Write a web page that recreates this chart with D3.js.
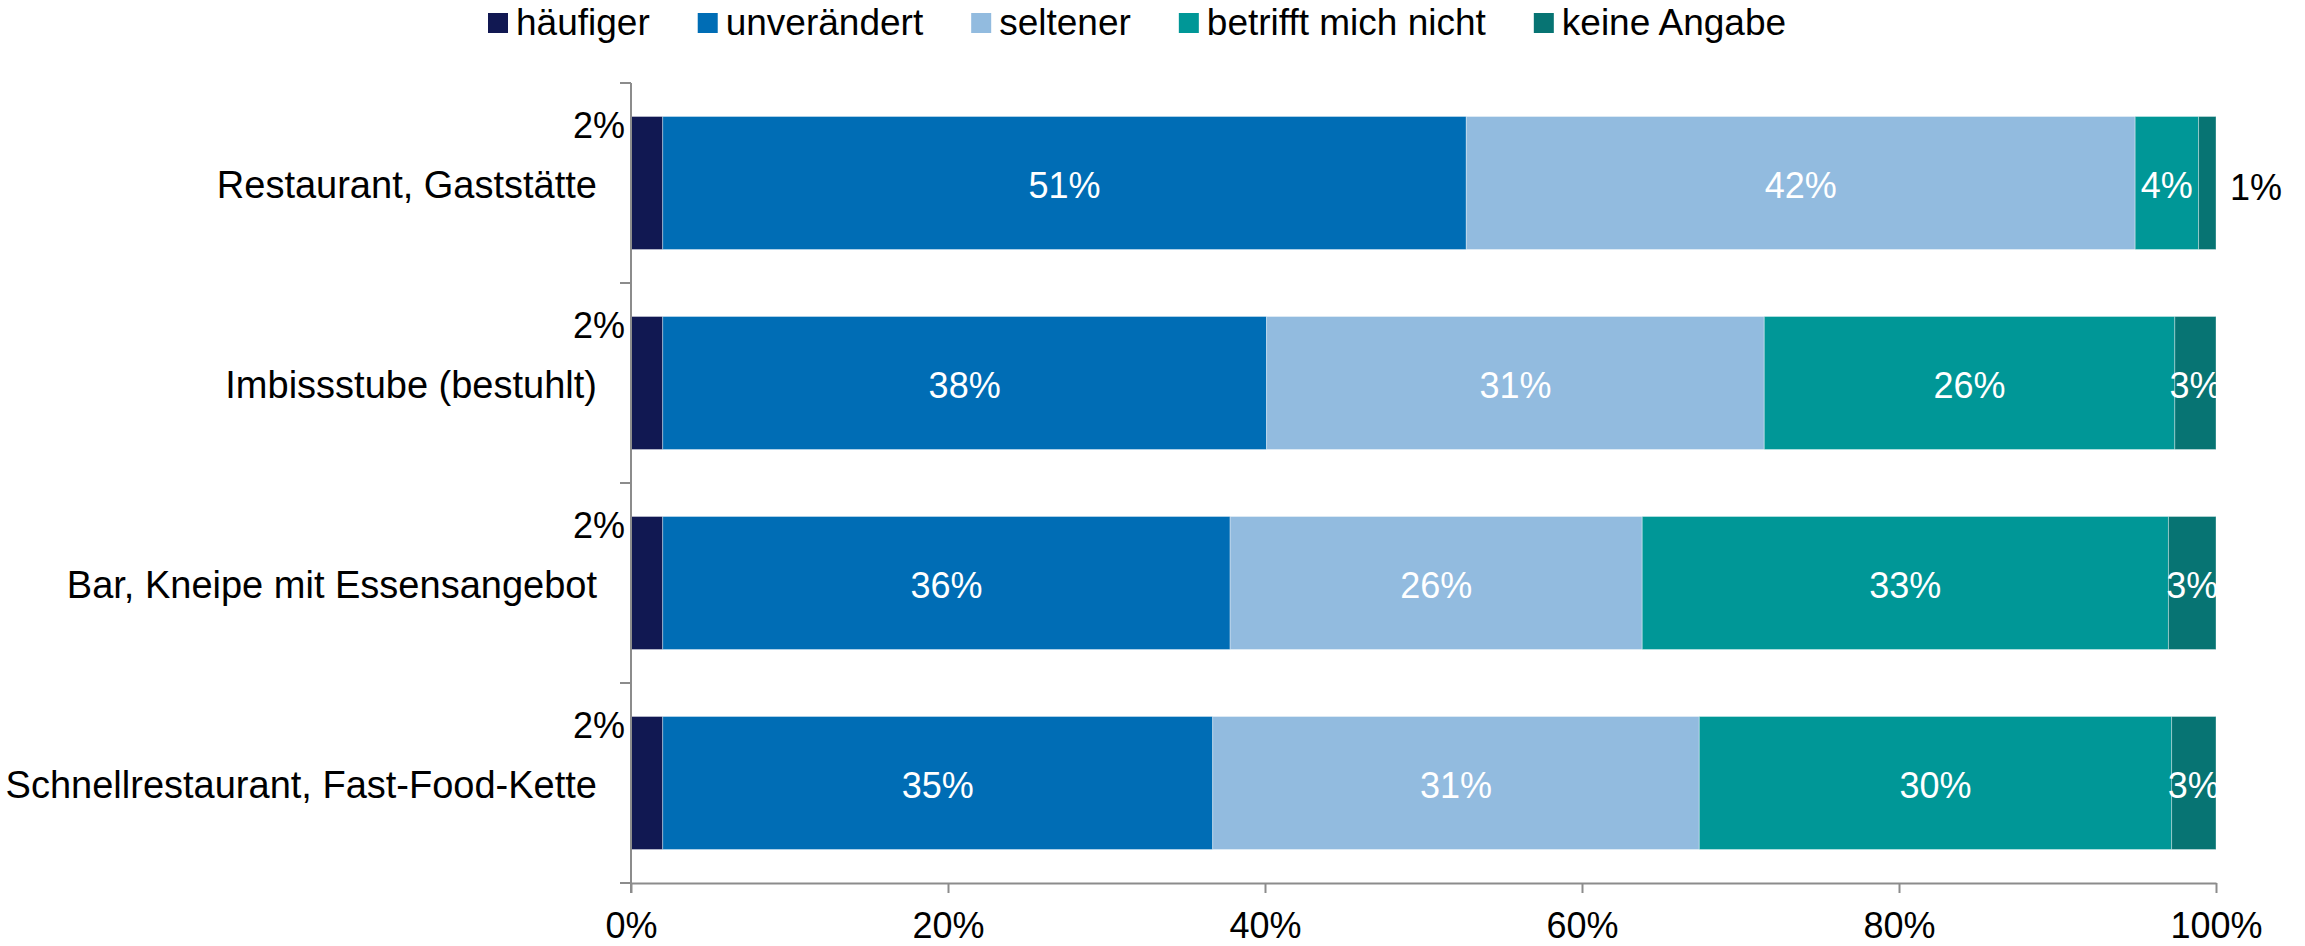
<!DOCTYPE html>
<html>
<head>
<meta charset="utf-8">
<script src="https://cdn.jsdelivr.net/npm/d3@7"></script>
<style>
  body { margin: 0; background: #fff; }
  text { font-family: "Liberation Sans", Arial, Helvetica, sans-serif; }
</style>
</head>
<body>
<div id="chart"></div>
<script>
const categories = ["Restaurant, Gaststätte", "Imbissstube (bestuhlt)", "Bar, Kneipe mit Essensangebot", "Schnellrestaurant, Fast-Food-Kette"];
const seriesNames = ["häufiger", "unverändert", "seltener", "betrifft mich nicht", "keine Angabe"];
const seriesColors = ["#111852", "#006db5", "#92bbdf", "#009797", "#077473"];

// Anteile in %
const haeufiger = [2.0, 2.0, 2.0, 2.0];
const unveraendert = [50.7, 38.1, 35.8, 34.7];
const seltener = [42.2, 31.4, 26.0, 30.7];
const betrifftNicht = [4.0, 25.9, 33.2, 29.8];
const keineAngabe = [1.1, 2.6, 3.0, 2.8];

const xTicks = [0, 20, 40, 60, 80, 100];

const width = 2305, height = 946;
const plotLeft = 631, plotRight = 2216, plotTop = 83, plotBottom = 883;
const axisColor = "#8c8c8c";

const rows = categories.map(function(c, i) {
  return {
    cat: c,
    "häufiger": haeufiger[i],
    "unverändert": unveraendert[i],
    "seltener": seltener[i],
    "betrifft mich nicht": betrifftNicht[i],
    "keine Angabe": keineAngabe[i]
  };
});

const stacked = d3.stack().keys(seriesNames)(rows);

const x = d3.scaleLinear().domain([0, 100]).range([plotLeft, plotRight]);
const y = d3.scaleBand().domain(categories).range([plotTop, plotBottom])
  .paddingInner(0.335).paddingOuter(0.1675);
const color = d3.scaleOrdinal().domain(seriesNames).range(seriesColors);

const svg = d3.select("#chart").append("svg")
  .attr("width", width)
  .attr("height", height);

// Balken
const layers = svg.selectAll("g.layer")
  .data(stacked)
  .join("g")
  .attr("class", "layer")
  .attr("fill", d => color(d.key));

layers.selectAll("rect")
  .data(d => d)
  .join("rect")
  .attr("x", d => x(d[0]))
  .attr("y", d => y(d.data.cat))
  .attr("width", d => x(d[1]) - x(d[0]))
  .attr("height", y.bandwidth())
  .attr("stroke", "#ffffff")
  .attr("stroke-opacity", 0.35)
  .attr("stroke-width", 1);

// Datenbeschriftungen
stacked.forEach(function(layer, si) {
  layer.forEach(function(d) {
    const v = d[1] - d[0];
    const label = Math.round(v) + "%";
    const yc = y(d.data.cat) + y.bandwidth() / 2;
    let tx, ty, anchor, fill;
    if (si === 0) {
      tx = plotLeft - 6; ty = y(d.data.cat) + 21; anchor = "end"; fill = "#000";
    } else if (v < 2) {
      tx = x(d[1]) + 40; ty = yc + 17; anchor = "middle"; fill = "#000";
    } else {
      tx = (x(d[0]) + x(d[1])) / 2; ty = yc + 15; anchor = "middle"; fill = "#fff";
    }
    svg.append("text")
      .attr("x", tx)
      .attr("y", ty)
      .attr("text-anchor", anchor)
      .attr("fill", fill)
      .style("font-size", "36px")
      .text(label);
  });
});

// Kategorien
svg.selectAll("text.cat")
  .data(categories)
  .join("text")
  .attr("class", "cat")
  .attr("x", 597)
  .attr("y", d => y(d) + y.bandwidth() / 2 + 15)
  .attr("text-anchor", "end")
  .attr("fill", "#000")
  .style("font-size", "38px")
  .text(d => d);

// y-Achse
svg.append("line")
  .attr("x1", plotLeft).attr("x2", plotLeft)
  .attr("y1", plotTop).attr("y2", plotBottom + 10)
  .attr("stroke", axisColor).attr("stroke-width", 2);
d3.range(categories.length + 1).forEach(function(i) {
  const ty = plotTop + i * y.step();
  svg.append("line")
    .attr("x1", plotLeft - 11).attr("x2", plotLeft)
    .attr("y1", ty).attr("y2", ty)
    .attr("stroke", axisColor).attr("stroke-width", 2);
});

// x-Achse
const xAxis = svg.append("g")
  .attr("transform", `translate(0, ${plotBottom})`)
  .call(d3.axisBottom(x).tickValues(xTicks).tickFormat(d => d + "%").tickSize(10).tickSizeOuter(0).tickPadding(20));
xAxis.select(".domain").attr("stroke", axisColor).attr("stroke-width", 2);
xAxis.selectAll(".tick line").attr("stroke", axisColor).attr("stroke-width", 2);
xAxis.selectAll(".tick text")
  .attr("fill", "#000")
  .style("font-size", "36px")
  .style("font-family", "'Liberation Sans', Arial, sans-serif")
  .attr("dy", null)
  .attr("y", 55);

// Legende
const legend = svg.append("g").attr("transform", "translate(488, 0)");
let lx = 0;
seriesNames.forEach(function(name) {
  const g = legend.append("g").attr("transform", `translate(${lx}, 0)`);
  g.append("rect")
    .attr("x", 0).attr("y", 13)
    .attr("width", 20).attr("height", 20)
    .attr("fill", color(name));
  const t = g.append("text")
    .attr("x", 28).attr("y", 35)
    .attr("fill", "#000")
    .style("font-size", "37px")
    .text(name);
  lx += 28 + t.node().getComputedTextLength() + 48;
});
</script>
</body>
</html>
